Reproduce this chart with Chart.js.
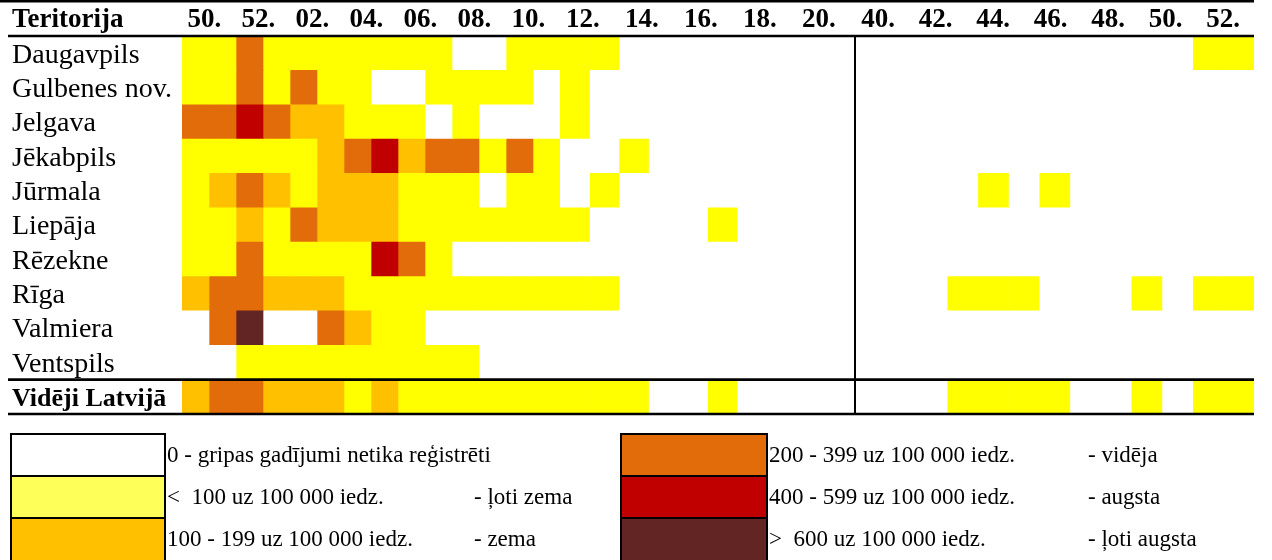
<!DOCTYPE html>
<html>
<head>
    <meta charset="utf-8">
    <title>Gripas intensitāte</title>
    <script src="https://cdn.jsdelivr.net/npm/chart.js@4.4.0/dist/chart.umd.min.js"></script>
    <style>
        body { margin: 0; background: #fff; font-family: 'Liberation Serif', 'Times New Roman', serif; }
        #wrap { position: relative; width: 1272px; height: 418px; }
        #legend { position: absolute; left: 0; top: 0; width: 1272px; height: 560px; pointer-events: none; }
        .box { position: absolute; box-sizing: border-box; border: 2px solid #000; }
        .txt { position: absolute; font-size: 23px; line-height: 42px; white-space: pre; color: #000; }
    </style>
</head>
<body>
    <div id="wrap"><canvas id="heat"></canvas></div>
    <div id="legend"></div>

    <script>
        var territories = ['Daugavpils', 'Gulbenes nov.', 'Jelgava', 'Jēkabpils', 'Jūrmala', 'Liepāja',
            'Rēzekne', 'Rīga', 'Valmiera', 'Ventspils', 'Vidēji Latvijā'];

        // nedēļas: sezona līdz 21. nedēļai, tad jaunā sezona no 40. nedēļas
        var weeksSeason1 = ['50', '51', '52', '01', '02', '03', '04', '05', '06', '07', '08', '09',
            '10', '11', '12', '13', '14', '15', '16', '17', '18', '19', '20', '21'];
        var weeksSeason2 = ['40', '41', '42', '43', '44', '45', '46', '47', '48', '49', '50', '51', '52'];

        // intensitātes līmenis 0..5 (0 - nav gadījumu, 5 - ļoti augsta)
        var levelsSeason1 = [
            [1, 1, 3, 1, 1, 1, 1, 1, 1, 1, 0, 0, 1, 1, 1, 1, 0, 0, 0, 0, 0, 0, 0, 0],
            [1, 1, 3, 1, 3, 1, 1, 0, 0, 1, 1, 1, 1, 0, 1, 0, 0, 0, 0, 0, 0, 0, 0, 0],
            [3, 3, 4, 3, 2, 2, 1, 1, 1, 0, 1, 0, 0, 0, 1, 0, 0, 0, 0, 0, 0, 0, 0, 0],
            [1, 1, 1, 1, 1, 2, 3, 4, 2, 3, 3, 1, 3, 1, 0, 0, 1, 0, 0, 0, 0, 0, 0, 0],
            [1, 2, 3, 2, 1, 2, 2, 2, 1, 1, 1, 0, 1, 1, 0, 1, 0, 0, 0, 0, 0, 0, 0, 0],
            [1, 1, 2, 1, 3, 2, 2, 2, 1, 1, 1, 1, 1, 1, 1, 0, 0, 0, 0, 1, 0, 0, 0, 0],
            [1, 1, 3, 1, 1, 1, 1, 4, 3, 1, 0, 0, 0, 0, 0, 0, 0, 0, 0, 0, 0, 0, 0, 0],
            [2, 3, 3, 2, 2, 2, 1, 1, 1, 1, 1, 1, 1, 1, 1, 1, 0, 0, 0, 0, 0, 0, 0, 0],
            [0, 3, 5, 0, 0, 3, 2, 1, 1, 0, 0, 0, 0, 0, 0, 0, 0, 0, 0, 0, 0, 0, 0, 0],
            [0, 0, 1, 1, 1, 1, 1, 1, 1, 1, 1, 0, 0, 0, 0, 0, 0, 0, 0, 0, 0, 0, 0, 0],
            [2, 3, 3, 2, 2, 2, 1, 2, 1, 1, 1, 1, 1, 1, 1, 1, 1, 0, 0, 1, 0, 0, 0, 0]
        ];
        var levelsSeason2 = [
            [0, 0, 0, 0, 0, 0, 0, 0, 0, 0, 0, 1, 1],
            [0, 0, 0, 0, 0, 0, 0, 0, 0, 0, 0, 0, 0],
            [0, 0, 0, 0, 0, 0, 0, 0, 0, 0, 0, 0, 0],
            [0, 0, 0, 0, 0, 0, 0, 0, 0, 0, 0, 0, 0],
            [0, 0, 0, 0, 1, 0, 1, 0, 0, 0, 0, 0, 0],
            [0, 0, 0, 0, 0, 0, 0, 0, 0, 0, 0, 0, 0],
            [0, 0, 0, 0, 0, 0, 0, 0, 0, 0, 0, 0, 0],
            [0, 0, 0, 1, 1, 1, 0, 0, 0, 1, 0, 1, 1],
            [0, 0, 0, 0, 0, 0, 0, 0, 0, 0, 0, 0, 0],
            [0, 0, 0, 0, 0, 0, 0, 0, 0, 0, 0, 0, 0],
            [0, 0, 0, 1, 1, 1, 1, 0, 0, 1, 0, 1, 1]
        ];

        var levelColors = ['#ffffff', '#ffff00', '#ffc000', '#e36c0a', '#c00000', '#632523'];
        var legendColors = ['#ffffff', '#ffff5a', '#ffc000', '#e36c0a', '#c00000', '#632523'];
        var levelRanges = ['0 - gripas gadījumi netika reģistrēti', '<  100 uz 100 000 iedz.',
            '100 - 199 uz 100 000 iedz.', '200 - 399 uz 100 000 iedz.',
            '400 - 599 uz 100 000 iedz.', '>  600 uz 100 000 iedz.'];
        var levelNames = ['', '- ļoti zema', '- zema', '- vidēja', '- augsta', '- ļoti augsta'];

        var serif = "'Liberation Serif', 'Times New Roman', serif";

        // tabulas kolonnu grupas (Excel kolonnām ir dažāds platums)
        var panels = [
            { id: 'xa', weeks: weeksSeason1, levels: levelsSeason1, from: 0, to: 14, width: 378, order: 3, labelStep: 1 },
            { id: 'xb', weeks: weeksSeason1, levels: levelsSeason1, from: 14, to: 24, width: 295, order: 2, labelStep: 1 },
            { id: 'xc', weeks: weeksSeason2, levels: levelsSeason2, from: 0, to: 13, width: 399, order: 1, labelStep: 0.937 }
        ];

        function panelDatasets(p) {
            var out = [];
            for (var c = p.from; c < p.to; c++) {
                out.push({
                    label: p.weeks[c],
                    xAxisID: p.id,
                    data: territories.map(function () { return [c, c + 1]; }),
                    backgroundColor: p.levels.map(function (row) { return levelColors[row[c]]; }),
                    borderWidth: 0,
                    grouped: false,
                    barPercentage: 1,
                    categoryPercentage: 1
                });
            }
            return out;
        }

        function panelAxis(p) {
            return {
                type: 'linear',
                position: 'top',
                stack: 'weeks',
                stackWeight: p.width,
                weight: p.order,
                min: p.from,
                max: p.to,
                grid: { display: false, drawTicks: false },
                border: { display: false },
                afterBuildTicks: function (scale) {
                    var t = [];
                    for (var c = p.from; c < p.to; c += 2) {
                        t.push({ value: p.from + (c - p.from) * p.labelStep + 0.2, week: p.weeks[c] });
                    }
                    scale.ticks = t;
                },
                afterFit: function (scale) { scale.height = 36; },
                ticks: {
                    align: 'start',
                    padding: 0,
                    autoSkip: false,
                    maxRotation: 0,
                    color: '#000',
                    font: { family: serif, size: 27, weight: 'bold' },
                    callback: function (v, i, ticks) { return ticks[i].week + '.'; }
                }
            };
        }

        // tabulas līnijas un virsraksts "Teritorija"
        var tableLines = {
            id: 'tableLines',
            afterDatasetsDraw: function (chart) {
                var ctx = chart.ctx;
                var a = chart.chartArea;
                var rowH = (a.bottom - a.top) / territories.length;
                var split = chart.scales.xb.right;
                function line(x0, y0, x1, y1, w) {
                    ctx.lineWidth = w;
                    ctx.beginPath();
                    ctx.moveTo(x0, y0);
                    ctx.lineTo(x1, y1);
                    ctx.stroke();
                }
                ctx.save();
                ctx.strokeStyle = '#000';
                line(0, 1.3, a.right, 1.3, 2.6);
                line(8, a.top, a.right, a.top, 2.6);
                line(8, a.bottom - rowH, a.right, a.bottom - rowH, 2.6);
                line(8, a.bottom, a.right, a.bottom, 2.6);
                line(split, a.top, split, a.bottom, 2);
                ctx.fillStyle = '#000';
                ctx.font = 'bold 27px ' + serif;
                ctx.textBaseline = 'alphabetic';
                ctx.fillText('Teritorija', 12, 27);
                ctx.restore();
            }
        };

        var scales = {
            y: {
                type: 'category',
                grid: { display: false, drawTicks: false },
                border: { display: false },
                afterFit: function (scale) {
                    scale.width = 170;
                    scale.paddingTop = 0;
                    scale.paddingBottom = 0;
                },
                ticks: {
                    crossAlign: 'far',
                    padding: 0,
                    labelOffset: 2,
                    autoSkip: false,
                    color: '#000',
                    font: function (c) {
                        var avg = c.index === territories.length - 1;
                        return { family: serif, size: avg ? 26 : 28, weight: avg ? 'bold' : 'normal' };
                    }
                }
            }
        };
        var datasets = [];
        panels.forEach(function (p) {
            scales[p.id] = panelAxis(p);
            datasets = datasets.concat(panelDatasets(p));
        });

        var ctx = document.getElementById('heat').getContext('2d');
        var chart = new Chart(ctx, {
            type: 'bar',
            data: { labels: territories, datasets: datasets },
            options: {
                indexAxis: 'y',
                responsive: true,
                maintainAspectRatio: false,
                animation: false,
                layout: { padding: { left: 12, right: 18, top: 0, bottom: 4 } },
                plugins: { legend: { display: false }, tooltip: { enabled: false } },
                scales: scales
            },
            plugins: [tableLines]
        });

        // leģenda (HTML teksts)
        var legend = document.getElementById('legend');
        levelRanges.forEach(function (txt, i) {
            var col = Math.floor(i / 3), row = i % 3;
            var boxLeft = col ? 620 : 10, boxW = col ? 148 : 156;
            var top = 433 + row * 42;
            var box = document.createElement('div');
            box.className = 'box';
            box.style.left = boxLeft + 'px';
            box.style.top = top + 'px';
            box.style.width = boxW + 'px';
            box.style.height = (row === 2 ? 60 : 44) + 'px';
            box.style.background = legendColors[i];
            legend.appendChild(box);
            var t = document.createElement('div');
            t.className = 'txt';
            t.style.left = (boxLeft + boxW + 1) + 'px';
            t.style.top = (top + 1) + 'px';
            t.textContent = txt;
            legend.appendChild(t);
            if (levelNames[i]) {
                var n = document.createElement('div');
                n.className = 'txt';
                n.style.left = (col ? 1088 : 474) + 'px';
                n.style.top = (top + 1) + 'px';
                n.textContent = levelNames[i];
                legend.appendChild(n);
            }
        });
    </script>
</body>
</html>
